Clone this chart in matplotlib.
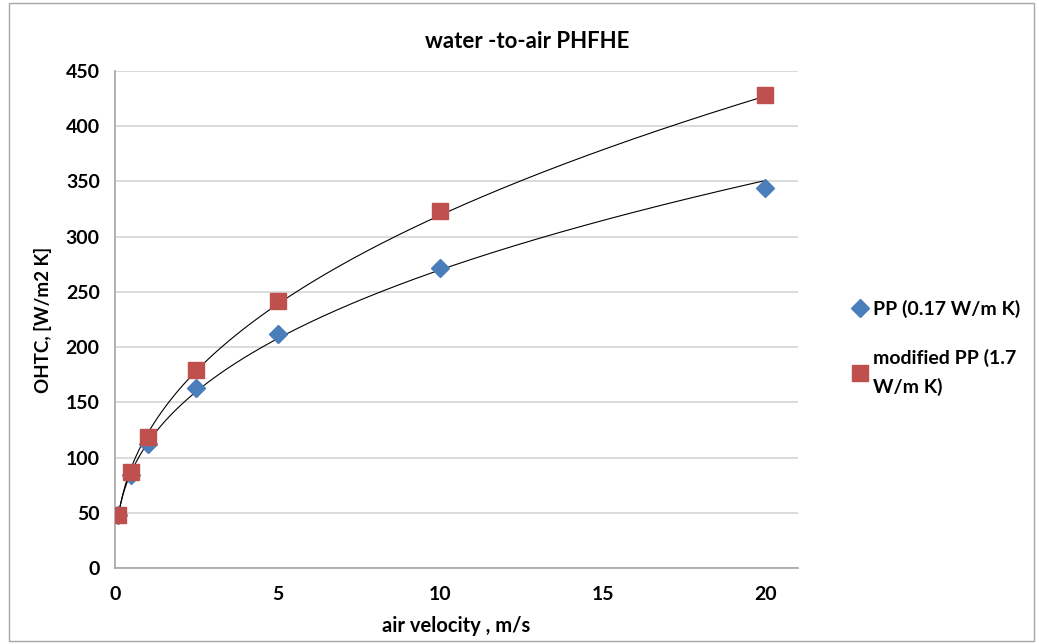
import matplotlib
matplotlib.use("Agg")
import matplotlib.pyplot as plt
import numpy as np

# air velocity (m/s) and OHTC values
velocity = [0.1, 0.5, 1, 2.5, 5, 10, 20]
ohtc_pp = [48, 84, 112, 163, 212, 272, 344]
ohtc_mod = [48, 87, 119, 179, 242, 323, 428]

label_pp = "PP (0.17 W/m K)"
label_mod = "modified PP (1.7\nW/m K)"

plt.rcParams['font.family'] = ['Lato', 'DejaVu Sans']
plt.rcParams['font.weight'] = 'bold'

fig = plt.figure(figsize=(10.39, 6.44), dpi=100)
ax = fig.add_axes([0.1107, 0.118, 0.6573, 0.7718])

# outer chart border
fig.patches.append(plt.Rectangle((0.009, 0.004), 0.986, 0.992, transform=fig.transFigure,
                                 fill=False, edgecolor='#a6a6a6', linewidth=1.0))

def power_fit(x, y):
    b, ln_a = np.polyfit(np.log(x), np.log(y), 1)
    xs = np.linspace(min(x), max(x), 300)
    return xs, np.exp(ln_a) * xs ** b

for y in (ohtc_pp, ohtc_mod):
    xs, ys = power_fit(velocity, y)
    ax.plot(xs, ys, color='black', lw=0.8, zorder=2)

ax.plot(velocity, ohtc_pp, 'D', color='#4A7EBB', markersize=9, ls='none', label=label_pp, zorder=3)
ax.plot(velocity, ohtc_mod, 's', color='#C0504D', markersize=11, ls='none', label=label_mod, zorder=4)

ax.set_xlim(0, 21)
ax.set_ylim(0, 450)
ax.set_xticks([0, 5, 10, 15, 20])
ax.set_yticks(np.arange(0, 451, 50))
ax.yaxis.grid(True, color='#d4d4d4', lw=1.2)
ax.set_axisbelow(True)
for s in ('top', 'right'):
    ax.spines[s].set_visible(False)
for s in ('left', 'bottom'):
    ax.spines[s].set_color('#a6a6a6')
    ax.spines[s].set_linewidth(1.2)
ax.tick_params(length=0, labelsize=14, pad=13)
ax.tick_params(axis='y', pad=11)
for lbl in ax.get_xticklabels() + ax.get_yticklabels():
    lbl.set_fontweight('bold')

ax.set_xlabel('air velocity , m/s', fontsize=14.5, fontweight='bold', labelpad=9)
ax.set_ylabel('OHTC, [W/m2 K]', fontsize=13.5, fontweight='bold', labelpad=10)
fig.text(527 / 1039, 1 - 42 / 644, 'water -to-air PHFHE', ha='center', va='center',
         fontsize=16, fontweight='bold')

leg = ax.legend(loc='upper left', bbox_to_anchor=(842 / 1039, 1 - 292 / 644),
                bbox_transform=fig.transFigure, frameon=False, fontsize=14,
                handletextpad=0.1, handlelength=1.1, labelspacing=1.6, borderaxespad=0)
for t in leg.get_texts():
    t.set_fontweight('bold')
    t.set_linespacing(1.75)

fig.savefig('out.png', dpi=100)
